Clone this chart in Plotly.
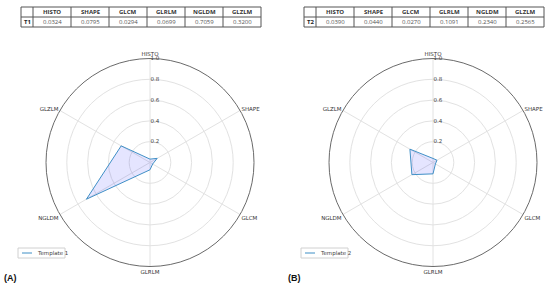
import plotly.graph_objects as go

features = ["HISTO", "SHAPE", "GLCM", "GLRLM", "NGLDM", "GLZLM"]
t1_values = [0.0324, 0.0795, 0.0294, 0.0699, 0.7059, 0.3200]
t2_values = [0.0390, 0.0440, 0.0270, 0.1091, 0.2340, 0.2565]
radial_ticks = [0.2, 0.4, 0.6, 0.8, 1.0]

W, H = 550, 286
LINE = "#3f8fc6"
FILL = "rgba(0,0,255,0.1)"
TABLE_LINE = "#555"

fig = go.Figure()


def fx(p):
    return p / W


def fy(p):
    return 1 - p / H


def text(s, x, y, size=6, color="#333", anchor="center", family="Open Sans"):
    fig.add_annotation(
        text=s, x=fx(x), y=fy(y), xref="paper", yref="paper",
        xanchor=anchor, yanchor="middle", showarrow=False,
        font=dict(size=size, family=family, color=color),
    )


def line(x0, y0, x1, y1, color, width=1):
    fig.add_shape(
        type="line", xref="paper", yref="paper",
        x0=fx(x0), y0=fy(y0), x1=fx(x1), y1=fy(y1),
        line=dict(color=color, width=width),
    )


panels = [
    ("T1", t1_values, "Template 1", 21, 150, "polar", "(A)", 2),
    ("T2", t2_values, "Template 2", 304, 433, "polar2", "(B)", 286),
]

for name, vals, label, tx, cx, polar, tag, tagx in panels:
    # table with the values
    col_w = [12] + [38] * len(features)
    edges = [tx]
    for w in col_w:
        edges.append(edges[-1] + w)
    top, mid, bot = 7, 17, 27
    for yy in (top, mid, bot):
        line(edges[0], yy, edges[-1], yy, TABLE_LINE)
    for xx in edges:
        line(xx, top, xx, bot, TABLE_LINE)
    text(f"<b>{name}</b>", (edges[0] + edges[1]) / 2, (mid + bot) / 2, color="#222")
    for i, (f, v) in enumerate(zip(features, vals)):
        xc = (edges[i + 1] + edges[i + 2]) / 2
        text(f"<b>{f}</b>", xc, (top + mid) / 2, color="#333")
        text(f"{v:.4f}", xc, (mid + bot) / 2, color="#555")

    # radar
    fig.add_trace(go.Scatterpolar(
        r=vals + vals[:1],
        theta=features + features[:1],
        mode="lines",
        line=dict(color=LINE, width=1),
        fill="toself",
        fillcolor=FILL,
        name=label,
        showlegend=False,
        subplot=polar,
    ))

    r = 104
    fig.update_layout(**{
        polar: dict(
            domain=dict(x=[fx(cx - r), fx(cx + r)], y=[fy(162.5 + r), fy(162.5 - r)]),
            bgcolor="white",
            angularaxis=dict(
                rotation=90,
                direction="clockwise",
                type="category",
                categoryarray=features,
                showline=True,
                linecolor="#6a6a6a",
                linewidth=1,
                gridcolor="#e2e2e2",
                ticks="",
                tickfont=dict(size=5.5, family="DejaVu Sans", color="#333"),
            ),
            radialaxis=dict(
                range=[0, 1],
                tickvals=radial_ticks,
                ticktext=[f"{t:.1f}" for t in radial_ticks],
                angle=90,
                tickangle=90,
                side="clockwise",
                showline=False,
                ticks="",
                gridcolor="#e2e2e2",
                tickfont=dict(size=5.5, family="DejaVu Sans", color="#444"),
            ),
        ),
    })

    # legend box
    lx = cx - 132
    fig.add_shape(
        type="rect", xref="paper", yref="paper",
        x0=fx(lx), y0=fy(258), x1=fx(lx + 47), y1=fy(248),
        line=dict(color="#d0d0d0", width=1), fillcolor="white",
    )
    line(lx + 4, 253, lx + 14, 253, LINE)
    text(label, lx + 17, 253, size=5.5, color="#444", anchor="left", family="DejaVu Sans")

    text(f"<b>{tag}</b>", tagx, 278, size=9, color="#111", anchor="left",
         family="Liberation Sans")

fig.update_layout(
    width=W,
    height=H,
    margin=dict(l=0, r=0, t=0, b=0),
    paper_bgcolor="white",
    showlegend=False,
)

fig.write_html("out.html", config={"displayModeBar": False},
               post_script="document.body.style.margin='0';")
